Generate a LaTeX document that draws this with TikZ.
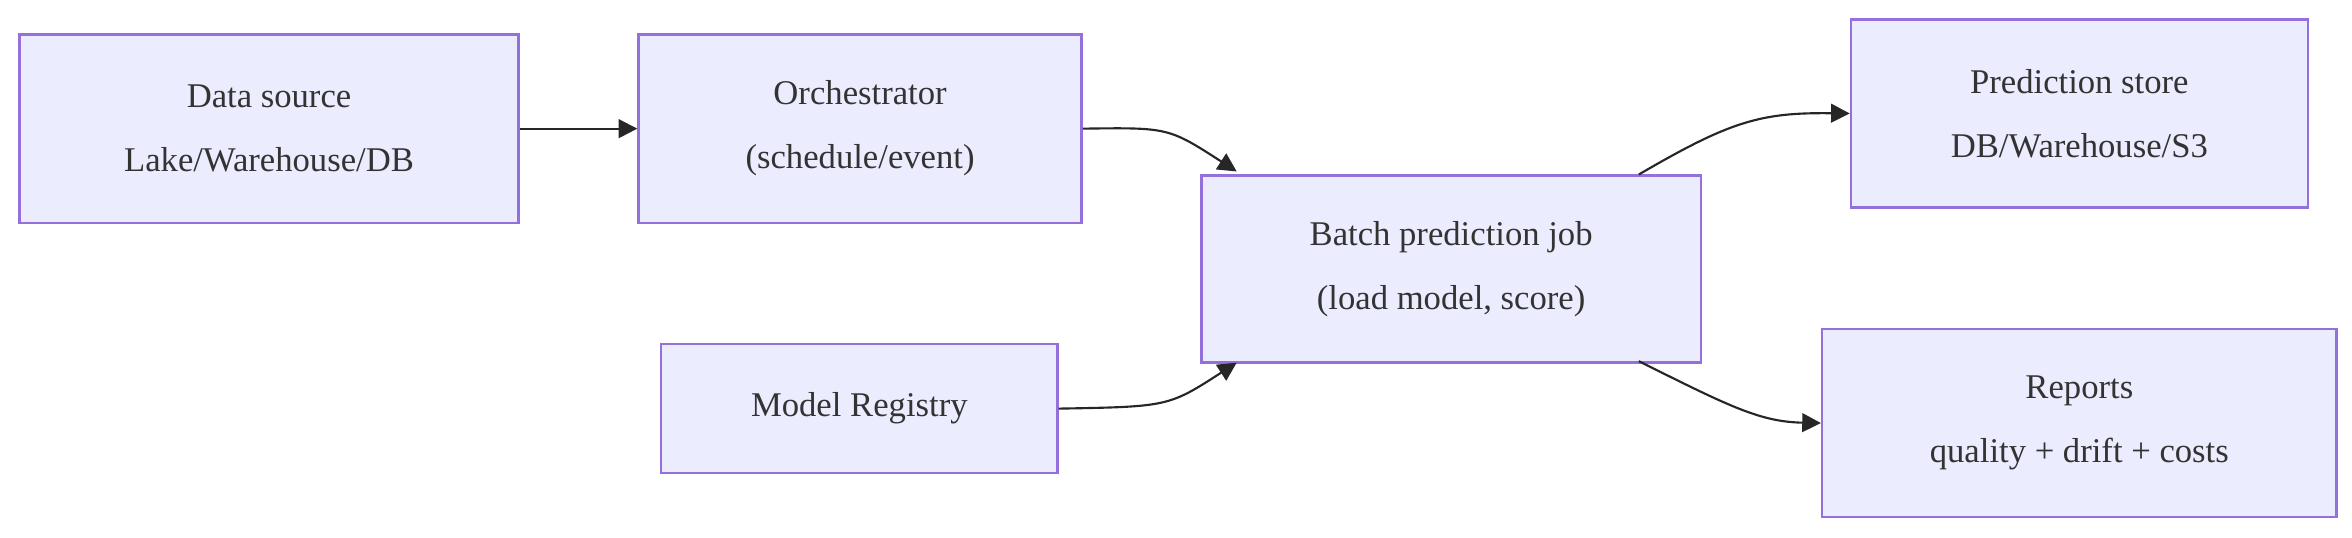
\documentclass[tikz,border=0pt]{standalone}
\usepackage{fontspec}
\setmainfont{Liberation Serif}
\usetikzlibrary{arrows.meta}

\definecolor{boxfill}{HTML}{ECECFF}
\definecolor{boxline}{HTML}{9370DB}

\tikzset{
    stage/.style={draw=boxline, fill=boxfill, line width=0.9pt, align=center,
        font=\fontsize{13}{24}\selectfont, text=black!80, anchor=north west},
    link/.style={-{Triangle[length=7pt,width=7pt]}, line width=0.8pt, black!85}
}

\begin{document}
\begin{tikzpicture}[x=0.02cm, y=-0.02cm]

    % Canvas
    \useasboundingbox (0,0) rectangle (1550,354);

    % Boxes
    \node[stage, minimum width=329*0.02cm, minimum height=124*0.02cm] (source) at (12,22)
        {Data source\\Lake/Warehouse/DB};
    \node[stage, minimum width=292*0.02cm, minimum height=124*0.02cm] (orch) at (420,22)
        {Orchestrator\\(schedule/event)};
    \node[stage, minimum width=261*0.02cm, minimum height=85*0.02cm] (registry) at (435,226)
        {Model Registry};
    \node[stage, minimum width=329*0.02cm, minimum height=123*0.02cm] (batch) at (791,115)
        {Batch prediction job\\(load model, score)};
    \node[stage, minimum width=301*0.02cm, minimum height=124*0.02cm] (store) at (1219,12)
        {Prediction store\\DB/Warehouse/S3};
    \node[stage, minimum width=339*0.02cm, minimum height=124*0.02cm] (reports) at (1200,216)
        {Reports\\quality + drift + costs};

    % Connectors
    \coordinate (btin) at (815,113);
    \coordinate (bbin) at (815,239);
    \coordinate (btout) at (1080,115);
    \coordinate (bbout) at (1080,238);
    \draw[link] (source.east) -- (orch.west);
    \draw[link] (orch.east) .. controls (770,84) .. (btin);
    \draw[link] (registry.east) .. controls (770,268) .. (bbin);
    \draw[link] (btout) .. controls (1140,80) and (1160,74) .. (store.west);
    \draw[link] (bbout) .. controls (1140,268) and (1160,278) .. (reports.west);

\end{tikzpicture}
\end{document}
